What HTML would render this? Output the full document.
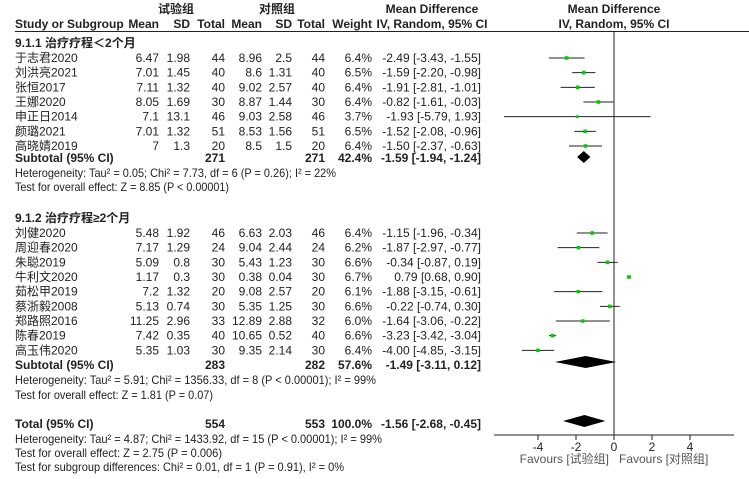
<!DOCTYPE html>
<html><head><meta charset="utf-8">
<style>
html,body{margin:0;padding:0;background:#fff;}
svg{display:block;font-family:"Liberation Sans","Noto Sans CJK SC",sans-serif;font-size:12px;fill:#222;}
.b{font-weight:bold;}
</style></head>
<body>
<svg id="plot" width="749" height="479" viewBox="0 0 749 479">
<g>
<text x="176" y="13" class="b" text-anchor="middle">试验组</text>
<text x="277" y="13" class="b" text-anchor="middle">对照组</text>
<text x="432" y="13" class="b" text-anchor="middle">Mean Difference</text>
<text x="614" y="13" class="b" text-anchor="middle">Mean Difference</text>
<text x="15" y="28" class="b">Study or Subgroup</text>
<text x="159" y="28" class="b" text-anchor="end">Mean</text>
<text x="190" y="28" class="b" text-anchor="end">SD</text>
<text x="225" y="28" class="b" text-anchor="end">Total</text>
<text x="262" y="28" class="b" text-anchor="end">Mean</text>
<text x="292" y="28" class="b" text-anchor="end">SD</text>
<text x="325" y="28" class="b" text-anchor="end">Total</text>
<text x="372" y="28" class="b" text-anchor="end">Weight</text>
<text x="432" y="28" class="b" text-anchor="middle">IV, Random, 95% CI</text>
<text x="614" y="28" class="b" text-anchor="middle">IV, Random, 95% CI</text>
<line x1="15" y1="31.5" x2="749" y2="31.5" stroke="#222" stroke-width="1"/>
</g>
<g id="rows"></g>
<g id="marks"></g>
<g id="axis"></g>
</svg>
<script>
const studyNames1 = ["于志君2020","刘洪亮2021","张恒2017","王娜2020","申正日2014","颜璐2021","高晓婧2019"];
const expMean1 = ["6.47","7.01","7.11","8.05","7.1","7.01","7"];
const expSD1 = ["1.98","1.45","1.32","1.69","13.1","1.32","1.3"];
const expN1 = ["44","40","40","30","46","51","20"];
const ctlMean1 = ["8.96","8.6","9.02","8.87","9.03","8.53","8.5"];
const ctlSD1 = ["2.5","1.31","2.57","1.44","2.58","1.56","1.5"];
const ctlN1 = ["44","40","40","30","46","51","20"];
const weight1 = [6.4,6.5,6.4,6.4,3.7,6.5,6.4];
const md1 = [-2.49,-1.59,-1.91,-0.82,-1.93,-1.52,-1.50];
const lo1 = [-3.43,-2.20,-2.81,-1.61,-5.79,-2.08,-2.37];
const hi1 = [-1.55,-0.98,-1.01,-0.03,1.93,-0.96,-0.63];

const studyNames2 = ["刘健2020","周迎春2020","朱聪2019","牛利文2020","茹松甲2019","蔡浙毅2008","郑路照2016","陈春2019","高玉伟2020"];
const expMean2 = ["5.48","7.17","5.09","1.17","7.2","5.13","11.25","7.42","5.35"];
const expSD2 = ["1.92","1.29","0.8","0.3","1.32","0.74","2.96","0.35","1.03"];
const expN2 = ["46","24","30","30","20","30","33","40","30"];
const ctlMean2 = ["6.63","9.04","5.43","0.38","9.08","5.35","12.89","10.65","9.35"];
const ctlSD2 = ["2.03","2.44","1.23","0.04","2.57","1.25","2.88","0.52","2.14"];
const ctlN2 = ["46","24","30","30","20","30","32","40","30"];
const weight2 = [6.4,6.2,6.6,6.7,6.1,6.6,6.0,6.6,6.4];
const md2 = [-1.15,-1.87,-0.34,0.79,-1.88,-0.22,-1.64,-3.23,-4.00];
const lo2 = [-1.96,-2.97,-0.87,0.68,-3.15,-0.74,-3.06,-3.42,-4.85];
const hi2 = [-0.34,-0.77,0.19,0.90,-0.61,0.30,-0.22,-3.04,-3.15];

const subtotalMD = [-1.59,-1.49];
const subtotalLo = [-1.94,-3.11];
const subtotalHi = [-1.24,0.12];
const totalMD = -1.56, totalLo = -2.68, totalHi = -0.45;
const axisTicks = [-4,-2,0,2,4];

const NS="http://www.w3.org/2000/svg";
const X0=614, UNIT=19;
const xs = v => X0 + v*UNIT;
const rows=document.getElementById('rows'), marks=document.getElementById('marks'), axis=document.getElementById('axis');
function t(parent,x,y,s,anchor,bold,name,len){
  const e=document.createElementNS(NS,'text');
  e.setAttribute('x',x);e.setAttribute('y',y);
  if(anchor)e.setAttribute('text-anchor',anchor);
  if(bold)e.setAttribute('class','b');
  if(len){e.setAttribute('textLength',len);e.setAttribute('lengthAdjust','spacingAndGlyphs');}
  e.textContent=s;
  
  
  parent.appendChild(e);return e;
}
function fmt(v){return v.toFixed(2);}
function ci(m,l,h){return fmt(m)+" ["+fmt(l)+", "+fmt(h)+"]";}
function line(x1,y1,x2,y2,name,w){
  const e=document.createElementNS(NS,'line');
  e.setAttribute('x1',x1);e.setAttribute('y1',y1);e.setAttribute('x2',x2);e.setAttribute('y2',y2);
  e.setAttribute('stroke','#222');e.setAttribute('stroke-width',w||1);
  
  
  axis.appendChild(e);return e;
}
function diamond(m,l,h,y,name){
  const p=document.createElementNS(NS,'polygon');
  p.setAttribute('points',`${xs(l)},${y} ${xs(m)},${y-6} ${xs(h)},${y} ${xs(m)},${y+6}`);
  p.setAttribute('fill','#000');
  
  
  marks.appendChild(p);
}
function group(names,em,es,en,cm,cs,cn,w,md,lo,hi,y0){
  for(let i=0;i<names.length;i++){
    const y=y0+i*14.67;
    t(rows,15,y,names[i],null,false,'study-name');
    t(rows,159,y,em[i],'end',false,'exp-mean');
    t(rows,190,y,es[i],'end',false,'exp-sd');
    t(rows,225,y,en[i],'end',false,'exp-total');
    t(rows,262,y,cm[i],'end',false,'ctl-mean');
    t(rows,292,y,cs[i],'end',false,'ctl-sd');
    t(rows,325,y,cn[i],'end',false,'ctl-total');
    t(rows,372,y,w[i].toFixed(1)+"%",'end',false,'weight');
    t(rows,481,y,ci(md[i],lo[i],hi[i]),'end',false,'effect-ci');
    const my=y-4;
    const l=document.createElementNS(NS,'line');
    l.setAttribute('x1',xs(lo[i]));l.setAttribute('x2',xs(hi[i]));
    l.setAttribute('y1',my);l.setAttribute('y2',my);
    l.setAttribute('stroke','#222');l.setAttribute('stroke-width','1');
    
    
    marks.appendChild(l);
    const s=Math.sqrt(w[i])*1.4;
    const r=document.createElementNS(NS,'rect');
    r.setAttribute('x',xs(md[i])-s/2);r.setAttribute('y',my-s/2);
    r.setAttribute('width',s);r.setAttribute('height',s);r.setAttribute('fill','#00cc00');
    
    
    marks.appendChild(r);
  }
}
t(rows,15,47,"9.1.1 治疗疗程＜2个月",null,true,'subgroup-title');
group(studyNames1,expMean1,expSD1,expN1,ctlMean1,ctlSD1,ctlN1,weight1,md1,lo1,hi1,62);
t(rows,15,162,"Subtotal (95% CI)",null,true,'subtotal-label');
t(rows,225,162,"271",'end',true,'subtotal-exp');
t(rows,325,162,"271",'end',true,'subtotal-ctl');
t(rows,372,162,"42.4%",'end',true,'subtotal-weight');
t(rows,481,162,ci(subtotalMD[0],subtotalLo[0],subtotalHi[0]),'end',true,'subtotal-ci');
diamond(subtotalMD[0],subtotalLo[0],subtotalHi[0],157,'subtotal-diamond-1');
t(rows,15,177,"Heterogeneity: Tau² = 0.05; Chi² = 7.73, df = 6 (P = 0.26); I² = 22%",null,false,'heterogeneity-1',321);
t(rows,15,191,"Test for overall effect: Z = 8.85 (P < 0.00001)",null,false,'overall-effect-1',214);
t(rows,15,222,"9.1.2 治疗疗程≥2个月",null,true,'subgroup-title');
group(studyNames2,expMean2,expSD2,expN2,ctlMean2,ctlSD2,ctlN2,weight2,md2,lo2,hi2,237);
t(rows,15,369,"Subtotal (95% CI)",null,true,'subtotal-label');
t(rows,225,369,"283",'end',true,'subtotal-exp');
t(rows,325,369,"282",'end',true,'subtotal-ctl');
t(rows,372,369,"57.6%",'end',true,'subtotal-weight');
t(rows,481,369,ci(subtotalMD[1],subtotalLo[1],subtotalHi[1]),'end',true,'subtotal-ci');
diamond(subtotalMD[1],subtotalLo[1],subtotalHi[1],362,'subtotal-diamond-2');
t(rows,15,384,"Heterogeneity: Tau² = 5.91; Chi² = 1356.33, df = 8 (P < 0.00001); I² = 99%",null,false,'heterogeneity-2',361);
t(rows,15,399,"Test for overall effect: Z = 1.81 (P = 0.07)",null,false,'overall-effect-2',198);
t(rows,15,428,"Total (95% CI)",null,true,'total-label');
t(rows,225,428,"554",'end',true,'total-exp');
t(rows,325,428,"553",'end',true,'total-ctl');
t(rows,372,428,"100.0%",'end',true,'total-weight');
t(rows,481,428,ci(totalMD,totalLo,totalHi),'end',true,'total-ci');
diamond(totalMD,totalLo,totalHi,421,'total-diamond');
t(rows,15,443,"Heterogeneity: Tau² = 4.87; Chi² = 1433.92, df = 15 (P < 0.00001); I² = 99%",null,false,'heterogeneity-total',367);
t(rows,15,457,"Test for overall effect: Z = 2.75 (P = 0.006)",null,false,'overall-effect-total',207);
t(rows,15,471,"Test for subgroup differences: Chi² = 0.01, df = 1 (P = 0.91), I² = 0%",null,false,'subgroup-differences',329);
line(xs(0),32,xs(0),435,'zero-line');
line(494,435,734,435,'x-axis');
axisTicks.forEach(v=>{
  line(xs(v),435,xs(v),440,'x-tick');
  t(axis,xs(v),451,(v<0?"-":"")+Math.abs(v),'middle',false,'x-tick-label');
});
const f1=t(axis,609,463,"Favours [试验组]",'end',false,'favours-left');
f1.style.fill='#555';
const f2=t(axis,619,463,"Favours [对照组]",null,false,'favours-right');
f2.style.fill='#555';
</script>
</body></html>
